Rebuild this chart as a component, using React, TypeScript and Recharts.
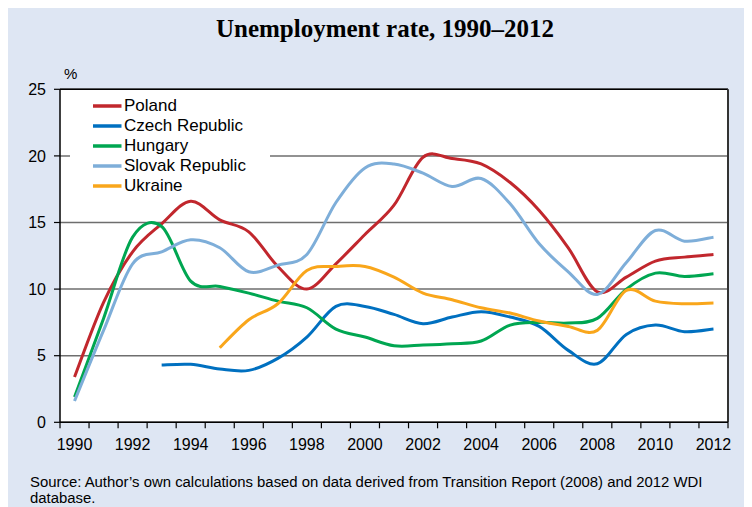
import React from 'react';
import { LineChart, Line, XAxis, YAxis, CartesianGrid, Legend, ReferenceLine } from 'recharts';

const years = [1990, 1991, 1992, 1993, 1994, 1995, 1996, 1997, 1998, 1999, 2000, 2001, 2002, 2003, 2004, 2005, 2006, 2007, 2008, 2009, 2010, 2011, 2012];
const poland = [3.4, 9.0, 12.8, 14.9, 16.6, 15.2, 14.3, 11.7, 10.0, 11.9, 14.1, 16.3, 19.9, 19.8, 19.4, 18.0, 15.9, 13.1, 9.8, 10.9, 12.1, 12.4, 12.6];
const czech = [null, null, null, 4.3, 4.35, 4.0, 3.9, 4.8, 6.4, 8.7, 8.7, 8.1, 7.4, 7.9, 8.3, 7.9, 7.2, 5.4, 4.4, 6.6, 7.3, 6.8, 7.0];
const hungary = [1.9, 7.8, 13.9, 14.7, 10.6, 10.2, 9.7, 9.1, 8.6, 7.0, 6.4, 5.75, 5.8, 5.9, 6.1, 7.3, 7.5, 7.45, 7.8, 10.0, 11.2, 10.95, 11.15];
const slovak = [1.6, 6.9, 11.9, 12.8, 13.7, 13.1, 11.3, 11.8, 12.6, 16.5, 19.1, 19.4, 18.7, 17.7, 18.3, 16.4, 13.4, 11.3, 9.6, 12.0, 14.4, 13.6, 13.9];
const ukraine = [null, null, null, null, null, 5.6, 7.7, 8.9, 11.4, 11.7, 11.7, 10.9, 9.7, 9.2, 8.6, 8.2, 7.6, 7.2, 6.9, 9.9, 9.1, 8.9, 8.95];

const seriesNames = ['Poland', 'Czech Republic', 'Hungary', 'Slovak Republic', 'Ukraine'];
const seriesValues = [poland, czech, hungary, slovak, ukraine];
const seriesColors = ['#c1272d', '#0070c0', '#00a651', '#7eaed9', '#f9a61b'];

const yTicks = [0, 5, 10, 15, 20, 25];
const title = 'Unemployment rate, 1990–2012';
const sourceLine1 = 'Source: Author’s own calculations based on data derived from Transition Report (2008) and 2012 WDI';
const sourceLine2 = 'database.';

const data = years.map((year, i) => {
  const row: any = { year };
  seriesNames.forEach((n, j) => { row[n] = seriesValues[j][i]; });
  return row;
});

const boundaryTicks = [...years.map((y) => y - 0.5), years[years.length - 1] + 0.5];
const labelYears = years.filter((y) => y % 2 === 0);
const xTicks = [...boundaryTicks, ...labelYears].sort((a, b) => a - b);

// Catmull-Rom (Excel-like smoothing) curve factory
function CatmullRom(this: any, context: any) { this._context = context; }
CatmullRom.prototype = {
  areaStart() { this._line = 0; },
  areaEnd() { this._line = NaN; },
  lineStart() { this._pts = []; },
  lineEnd() {
    const p = this._pts;
    const n = p.length;
    const c = this._context;
    if (n) {
      if (this._line) c.lineTo(p[0][0], p[0][1]); else c.moveTo(p[0][0], p[0][1]);
      if (n === 2) c.lineTo(p[1][0], p[1][1]);
      else {
        for (let i = 0; i < n - 1; i++) {
          const p0 = p[i - 1] || p[i];
          const p1 = p[i];
          const p2 = p[i + 1];
          const p3 = p[i + 2] || p2;
          c.bezierCurveTo(
            p1[0] + (p2[0] - p0[0]) / 6, p1[1] + (p2[1] - p0[1]) / 6,
            p2[0] - (p3[0] - p1[0]) / 6, p2[1] - (p3[1] - p1[1]) / 6,
            p2[0], p2[1]
          );
        }
      }
    }
    if (this._line || (this._line !== 0 && n === 1)) c.closePath();
    this._line = 1 - this._line;
  },
  point(x: number, y: number) { this._pts.push([+x, +y]); },
};
const curveCatmullRom = (context: any) => new (CatmullRom as any)(context);

const FONT = '"Liberation Sans", Arial, sans-serif';

const XTick = (props: any) => {
  const { x, y, payload } = props;
  const v = payload.value;
  if (v % 1 !== 0) {
    return <line x1={x} x2={x} y1={y} y2={y + 6} stroke="#000" strokeWidth={1.2} />;
  }
  return (
    <text x={x} y={y + 28} textAnchor="middle" fontSize={16} fontFamily={FONT} fill="#000">{v}</text>
  );
};

const LegendBox = (props: any) => {
  const items = [...(props.payload || [])].sort(
    (a: any, b: any) => seriesNames.indexOf(a.value) - seriesNames.indexOf(b.value)
  );
  return (
    <div style={{ background: '#fff', width: 200, fontFamily: FONT, fontSize: 17, color: '#000' }}>
      {items.map((e: any) => (
        <div key={e.value} style={{ display: 'flex', alignItems: 'center', height: 20.2 }}>
          <svg width={54} height={4} style={{ display: 'block', flex: 'none' }}>
            <line x1={23} x2={51.5} y1={2} y2={2} stroke={e.color} strokeWidth={3.5} />
          </svg>
          <span style={{ lineHeight: '20px' }}>{e.value}</span>
        </div>
      ))}
    </div>
  );
};

export default function App() {
  return (
    <div style={{ position: 'relative', width: 744, height: 499, background: '#dee6f3', overflow: 'hidden' }}>
      <div style={{ position: 'absolute', left: 377, top: 7, transform: 'translateX(-50%)', whiteSpace: 'nowrap', fontFamily: '"Liberation Serif", "Times New Roman", serif', fontWeight: 'bold', fontSize: 25, color: '#000' }}>
        {title}
      </div>
      <div style={{ position: 'absolute', left: 56, top: 57, fontFamily: FONT, fontSize: 15, color: '#000' }}>%</div>
      <div style={{ position: 'absolute', left: 0, top: 0 }}>
        <LineChart width={744} height={499} data={data} margin={{ top: 81.3, right: 24, left: 0, bottom: 44.7 }}>
          <CartesianGrid vertical={false} stroke="#6e6e6e" strokeWidth={1.5} fill="#fff" />
          <XAxis
            dataKey="year"
            type="number"
            domain={[years[0] - 0.5, years[years.length - 1] + 0.5]}
            ticks={xTicks}
            interval={0}
            tickSize={0}
            tickMargin={0}
            tickLine={false}
            tick={<XTick />}
            height={40}
            axisLine={{ stroke: '#000', strokeWidth: 1.5 }}
            allowDataOverflow
          />
          <YAxis
            domain={[0, 25]}
            ticks={yTicks}
            interval={0}
            width={52}
            tickSize={6}
            tickMargin={8}
            tick={{ fontSize: 16, fontFamily: FONT, fill: '#000' }}
            tickLine={{ stroke: '#000', strokeWidth: 1.2 }}
            axisLine={{ stroke: '#000', strokeWidth: 1.5 }}
          />
          <ReferenceLine y={25} stroke="#000" strokeWidth={1.5} />
          <ReferenceLine x={years[years.length - 1] + 0.5} stroke="#333" strokeWidth={2} />
          {seriesNames.map((n, j) => (
            <Line
              key={n}
              dataKey={n}
              name={n}
              stroke={seriesColors[j]}
              strokeWidth={3}
              dot={false}
              activeDot={false}
              type={curveCatmullRom as any}
              isAnimationActive={false}
            />
          ))}
          <Legend
            layout="vertical"
            align="center"
            verticalAlign="middle"
            content={<LegendBox />}
            wrapperStyle={{ left: 62, top: 87.5, width: 200 }}
          />
        </LineChart>
      </div>
      <div style={{ position: 'absolute', left: 22, top: 465.5, fontFamily: FONT, fontSize: 14.9, lineHeight: '16px', color: '#000', whiteSpace: 'nowrap' }}>
        <div>{sourceLine1}</div>
        <div>{sourceLine2}</div>
      </div>
    </div>
  );
}
